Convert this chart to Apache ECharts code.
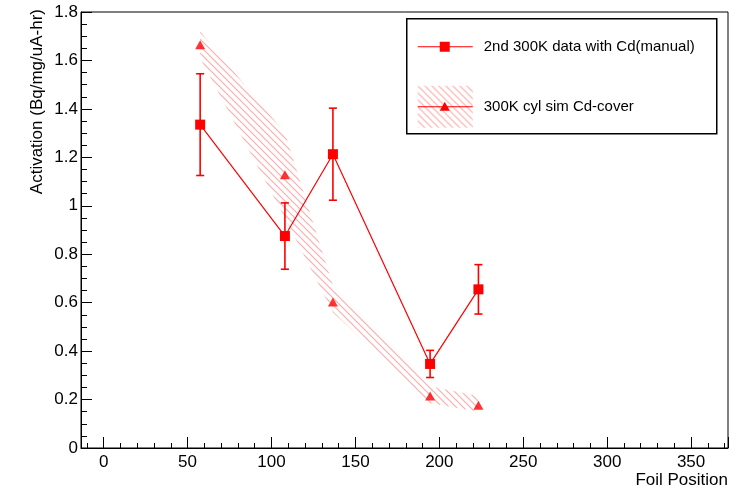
<!DOCTYPE html>
<html>
<head>
<meta charset="utf-8">
<script src="https://cdn.jsdelivr.net/npm/echarts@6/dist/echarts.min.js"></script>
<style>
  html, body { margin: 0; padding: 0; background: #ffffff; }
  #chart { width: 753px; height: 491px; }
</style>
</head>
<body>
<div id="chart"></div>
<script>
// Measured activation (Cd-covered foils, manual analysis)
const dataPositions  = [57.5, 108.0, 136.6, 194.5, 223.3];
const dataActivation = [1.335, 0.875, 1.213, 0.347, 0.655];
const dataError      = [0.210, 0.137, 0.190, 0.056, 0.102];

// Simulated activation (cylindrical model with Cd cover) and its uncertainty band
const simPositions   = [57.5, 108.0, 136.6, 194.5, 223.3];
const simActivation  = [1.665, 1.128, 0.603, 0.215, 0.176];
const simBandUpper   = [1.720, 1.300, 0.670, 0.255, 0.215];
const simBandLower   = [1.610, 0.950, 0.560, 0.185, 0.150];

// Axis ranges
const xRange = [-13.5, 372];
const yRange = [0, 1.8];
const yStep = 0.2;

const legendLabels = ['2nd 300K data with Cd(manual)', '300K cyl sim Cd-cover'];

const FONT = "'Liberation Sans', Arial, Helvetica, sans-serif";
const RED = '#ff0000';

// Diagonal hatch pattern used for the simulation band
function makeHatch() {
  const s = 7;
  const c = document.createElement('canvas');
  c.width = s; c.height = s;
  const ctx = c.getContext('2d');
  ctx.strokeStyle = 'rgba(255,70,70,0.45)';
  ctx.lineWidth = 1.2;
  ctx.beginPath();
  ctx.moveTo(0, 0); ctx.lineTo(s, s);
  ctx.moveTo(-1, s - 1); ctx.lineTo(1, s + 1);
  ctx.moveTo(s - 1, -1); ctx.lineTo(s + 1, 1);
  ctx.stroke();
  return { image: c, repeat: 'repeat' };
}
const hatch = makeHatch();

const chart = echarts.init(document.getElementById('chart'), null, { renderer: 'canvas' });

const option = {
  animation: false,
  backgroundColor: '#ffffff',
  textStyle: { fontFamily: FONT },
  grid: {
    left: 81, top: 12, right: 25, bottom: 43,
    show: true, borderColor: '#000', borderWidth: 1, backgroundColor: 'transparent'
  },
  xAxis: {
    type: 'value',
    min: xRange[0], max: xRange[1],
    splitNumber: 8,
    name: 'Foil Position',
    nameLocation: 'end',
    nameGap: 0,
    nameTextStyle: { fontFamily: FONT, fontSize: 17, color: '#000', align: 'right', verticalAlign: 'top', padding: [24, 0, 0, 0] },
    axisLine: { show: true, onZero: false, lineStyle: { color: '#000', width: 1 } },
    axisTick: { show: true, inside: true, length: 11, lineStyle: { color: '#000' } },
    minorTick: { show: true, splitNumber: 5, length: 5, lineStyle: { color: '#000' } },
    axisLabel: { show: true, margin: 6, fontFamily: FONT, fontSize: 17, color: '#000', showMinLabel: false, showMaxLabel: false },
    splitLine: { show: false }
  },
  yAxis: {
    type: 'value',
    min: yRange[0], max: yRange[1], interval: yStep,
    name: 'Activation (Bq/mg/uA-hr)',
    nameLocation: 'end',
    nameRotate: 90,
    nameGap: 0,
    nameTextStyle: { fontFamily: FONT, fontSize: 17, color: '#000', align: 'right', verticalAlign: 'bottom', padding: [0, -3, 35, 0] },
    axisLine: { show: true, onZero: false, lineStyle: { color: '#000', width: 1 } },
    axisTick: { show: true, inside: true, length: 11, lineStyle: { color: '#000' } },
    minorTick: { show: true, splitNumber: 4, length: 6, lineStyle: { color: '#000' } },
    axisLabel: { show: true, margin: 3, fontFamily: FONT, fontSize: 17, color: '#000' },
    splitLine: { show: false }
  },
  series: [
    {
      // Hatched uncertainty band of the simulation
      type: 'custom',
      name: legendLabels[1] + ' band',
      data: simPositions.map((x, i) => [x, simBandLower[i], simBandUpper[i]]),
      encode: { x: 0, y: [1, 2] },
      renderItem: function (params, api) {
        if (params.dataIndex !== 0) return null;
        const pts = [];
        for (let i = 0; i < simPositions.length; i++) pts.push(api.coord([simPositions[i], simBandUpper[i]]));
        for (let i = simPositions.length - 1; i >= 0; i--) pts.push(api.coord([simPositions[i], simBandLower[i]]));
        return { type: 'polygon', shape: { points: pts }, style: { fill: hatch, stroke: null } };
      },
      z: 1
    },
    {
      // Simulation points
      type: 'scatter',
      name: legendLabels[1],
      data: simPositions.map((x, i) => [x, simActivation[i]]),
      symbol: 'triangle',
      symbolSize: [10, 9],
      itemStyle: { color: RED },
      z: 3
    },
    {
      // Measurement line with square markers
      type: 'line',
      name: legendLabels[0],
      data: dataPositions.map((x, i) => [x, dataActivation[i]]),
      symbol: 'rect',
      symbolSize: 10,
      showAllSymbol: true,
      lineStyle: { color: RED, width: 1.2 },
      itemStyle: { color: RED },
      z: 4
    },
    {
      // Measurement error bars
      type: 'custom',
      name: legendLabels[0] + ' errors',
      data: dataPositions.map((x, i) => [x, dataActivation[i], dataError[i]]),
      renderItem: function (params, api) {
        const x = api.value(0), y = api.value(1), e = api.value(2);
        const t = api.coord([x, y + e]);
        const b = api.coord([x, y - e]);
        const cap = 4;
        const st = { stroke: RED, lineWidth: 1.6 };
        return {
          type: 'group',
          children: [
            { type: 'line', shape: { x1: t[0], y1: t[1], x2: b[0], y2: b[1] }, style: st },
            { type: 'line', shape: { x1: t[0] - cap, y1: t[1], x2: t[0] + cap, y2: t[1] }, style: st },
            { type: 'line', shape: { x1: b[0] - cap, y1: b[1], x2: b[0] + cap, y2: b[1] }, style: st }
          ]
        };
      },
      z: 4
    }
  ],
  graphic: [
    {
      type: 'group',
      left: 406, top: 18,
      children: [
        { type: 'rect', shape: { x: 0, y: 0, width: 310, height: 115 }, style: { fill: '#fff', stroke: '#000', lineWidth: 1.5 } },
        { type: 'line', shape: { x1: 11, y1: 28, x2: 66, y2: 28 }, style: { stroke: RED, lineWidth: 1.2 } },
        { type: 'rect', shape: { x: 33, y: 23, width: 10, height: 10 }, style: { fill: RED } },
        { type: 'text', style: { x: 77, y: 28, text: legendLabels[0], font: "15px " + FONT, fill: '#000', verticalAlign: 'middle' } },
        { type: 'rect', shape: { x: 11, y: 67, width: 55, height: 42 }, style: { fill: hatch } },
        { type: 'line', shape: { x1: 11, y1: 88, x2: 66, y2: 88 }, style: { stroke: RED, lineWidth: 1.2 } },
        { type: 'polygon', shape: { points: [[38, 83], [43, 92], [33, 92]] }, style: { fill: RED } },
        { type: 'text', style: { x: 77, y: 88, text: legendLabels[1], font: "15px " + FONT, fill: '#000', verticalAlign: 'middle' } }
      ]
    }
  ]
};

chart.setOption(option);
</script>
</body>
</html>
